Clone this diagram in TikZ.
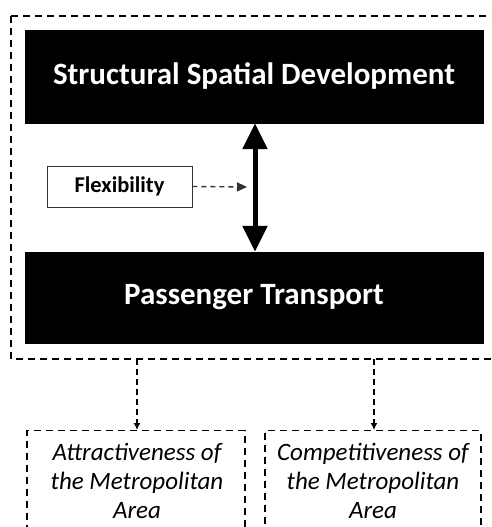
\documentclass[tikz,border=0pt]{standalone}
\usepackage{fontspec}
\setmainfont{Carlito}
\usetikzlibrary{arrows.meta}
\begin{document}
\begin{tikzpicture}[x=1pt,y=-1pt,
  blackbox/.style={draw=black,fill=black,text=white,inner sep=0pt,font=\bfseries\fontsize{31}{36}\selectfont},
  dashframe/.style={draw=black,line width=1.6pt,dash pattern=on 7pt off 5pt},
  flexbox/.style={draw=black!80,line width=0.9pt,fill=white,inner sep=0pt,font=\bfseries\fontsize{22.5}{27}\selectfont},
  outbox/.style={draw=black,line width=1.4pt,dash pattern=on 7pt off 5pt,inner sep=0pt},
  outtext/.style={font=\itshape\fontsize{25}{29}\selectfont,align=center,inner sep=0pt},
  dasharrow/.style={line width=1.4pt,dash pattern=on 6pt off 4pt,-{Latex[length=7pt,width=7pt]}}]
\useasboundingbox (0,0) rectangle (492,527);
% outer dashed frame (open at the right, cut by the picture edge)
\draw[dashframe] (11,16) -- (491,16);
\draw[dashframe] (11,16) -- (11,359) -- (491,359);
% black boxes
\node[blackbox,minimum width=458pt,minimum height=93pt] (ssd) at (254,76.5) {Structural Spatial Development};
\node[blackbox,minimum width=458pt,minimum height=91pt] (pt) at (254,297.5) {Passenger Transport};
% double arrow
\draw[line width=5pt,{Triangle[length=26pt,width=24pt]}-{Triangle[length=26pt,width=24pt]}] (ssd.south -| 255,0) -- (pt.north -| 255,0);
% flexibility
\node[flexbox,minimum width=145pt,minimum height=41pt] (flex) at (119.5,186.5) {Flexibility};
\coordinate (arrowmid) at (247,187);
\draw[line width=1.4pt,dash pattern=on 5pt off 4pt,-{Triangle[length=10pt,width=9pt]},black!80] (flex.east) -- (arrowmid);
% output boxes (cut by the bottom edge)
\begin{scope}
\clip (0,0) rectangle (492,527);
\node[outbox,minimum width=218pt,minimum height=130pt,anchor=north] (attr) at (136,430) {};
\node[outbox,minimum width=216pt,minimum height=130pt,anchor=north] (comp) at (373,430) {};
\end{scope}
\node[outtext,anchor=base] (attrtext) at (137,518) {Attractiveness of\\the Metropolitan\\Area};
\node[outtext,anchor=base] (comptext) at (373,518) {Competitiveness of\\the Metropolitan\\Area};
\coordinate (a1) at (137,359);
\coordinate (c1) at (374,359);
\draw[dasharrow] (a1) -- (a1 |- attr.north);
\draw[dasharrow] (c1) -- (c1 |- comp.north);
\end{tikzpicture}
\end{document}
